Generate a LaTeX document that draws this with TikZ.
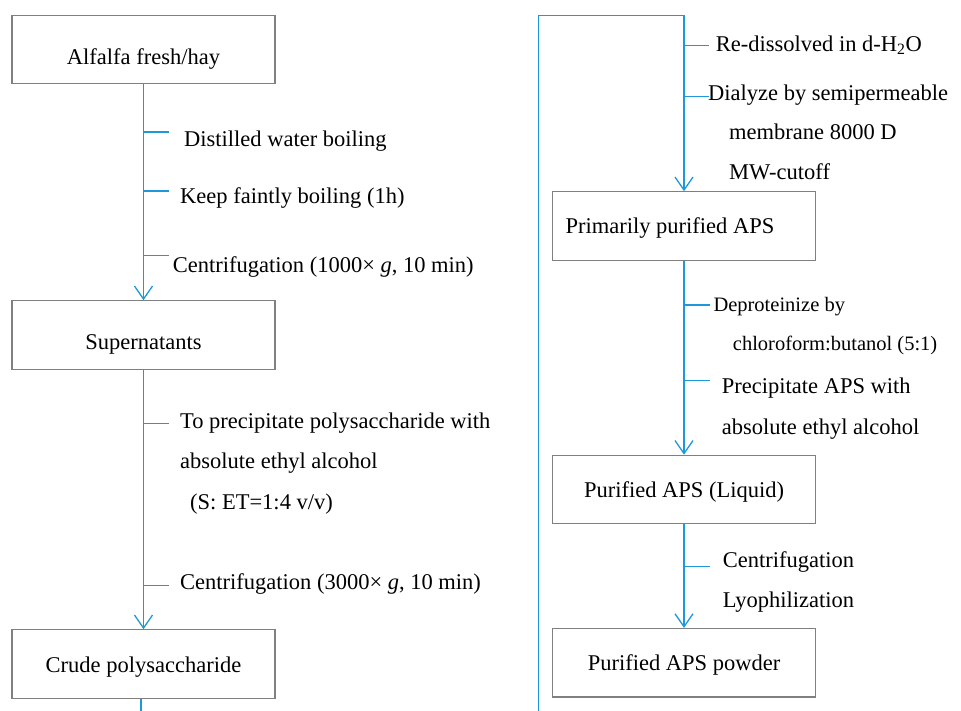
\documentclass[tikz,border=0pt]{standalone}
\usepackage{fontspec}
\setmainfont{Liberation Serif}
\usetikzlibrary{arrows.meta}
\definecolor{flowblue}{RGB}{30,152,218}
\definecolor{boxgray}{RGB}{128,128,128}

\begin{document}
\begin{tikzpicture}[x=1pt,y=-1pt,
    box/.style={draw=boxgray, line width=1.1pt, minimum width=263pt, minimum height=68.5pt,
        inner sep=0pt, font=\fontsize{22.5}{27}\selectfont, text height=16pt, text depth=0pt},
    flow/.style={draw=flowblue, line width=1.6pt, -{Straight Barb[length=13pt,width=18pt,line width=1.3pt]}},
    line/.style={draw=flowblue, line width=1.6pt},
    stub/.style={draw=flowblue, line width=1.6pt},
    stepnote/.style={anchor=base west, align=left, inner sep=0pt, font=\fontsize{22.5}{40.5}\selectfont},
    smallnote/.style={anchor=base west, align=left, inner sep=0pt, font=\fontsize{20.5}{38.3}\selectfont}]
    \useasboundingbox (0,0) rectangle (961,711);

    % Define the positions of the boxes
    \coordinate (alfalfaPos) at (143.5,49.5);
    \coordinate (superPos) at (143.5,335);
    \coordinate (crudePos) at (143.5,664);
    \coordinate (primPos) at (684,226);
    \coordinate (liquidPos) at (684,489.5);
    \coordinate (powderPos) at (684,662.7);

    % Draw the boxes
    \node[box, text height=29.6pt] (alfalfa) at (alfalfaPos) {Alfalfa fresh/hay};
    \node[box, text height=28pt] (super) at (superPos) {Supernatants};
    \node[box] (crude) at (crudePos) {Crude polysaccharide};
    \node[box] (prim) at (primPos) {\hspace*{-28pt}Primarily purified APS};
    \node[box] (liquid) at (liquidPos) {Purified APS (Liquid)};
    \node[box] (powder) at (powderPos) {Purified APS powder};

    % Draw the steps (base = baseline of the last line)
    \node[stepnote] (distil) at (184,146.7) {Distilled water boiling};
    \node[stepnote] (keep) at (180,204) {Keep faintly boiling (1h)};
    \node[stepnote] (centA) at (172.7,272.7) {Centrifugation (1000× \textit{g}, 10 min)};
    \node[stepnote] (precipA) at (180,509.3) {To precipitate polysaccharide with\\absolute ethyl alcohol\\\hspace*{10pt}(S: ET=1:4 v/v)};
    \node[stepnote] (centB) at (180,589.3) {Centrifugation (3000× \textit{g}, 10 min)};
    \node[stepnote] (redis) at (715.7,51.7) {Re-dissolved in d-H\textsubscript{2}O};
    \node[stepnote, font=\fontsize{22.5}{39.6}\selectfont] (dialyze) at (708,179.3) {Dialyze by semipermeable\\\hspace*{21pt}membrane 8000 D\\\hspace*{21pt}MW-cutoff};
    \node[smallnote] (deprot) at (713.3,350) {Deproteinize by\\\hspace*{19.4pt}chloroform:butanol (5:1)};
    \node[stepnote] (precipB) at (721.7,434) {Precipitate APS with\\absolute ethyl alcohol};
    \node[stepnote, font=\fontsize{22.5}{40}\selectfont] (lyo) at (722.7,607.3) {Centrifugation\\Lyophilization};

    % Draw the left column
    \draw[flow] (alfalfa) -- (super);
    \draw[flow] (super) -- (crude);
    \coordinate (leftEnd) at (141,711);
    \draw[line] (crude.south -| leftEnd) -- (leftEnd);
    \draw[stub] (alfalfa.south) ++(0,48) -- ++(25,0);
    \draw[stub] (alfalfa.south) ++(0,107) -- ++(25,0);
    \draw[stub] (alfalfa.south) ++(0,171.3) -- ++(25,0);
    \draw[stub] (super.south) ++(0,53.5) -- ++(25,0);
    \draw[stub] (super.south) ++(0,215.7) -- ++(25,0);

    % Draw the right column
    \coordinate (rightEnd) at (538.3,711);
    \coordinate (topLeft) at (538.3,15.7);
    \coordinate (topRight) at (684,15.7);
    \draw[flow] (rightEnd) -- (topLeft) -- (topRight) -- (prim.north);
    \draw[flow] (prim) -- (liquid);
    \draw[flow] (liquid) -- (powder);
    \draw[stub] (topRight) ++(0,30) -- ++(25,0);
    \draw[stub] (topRight) ++(0,81) -- ++(25,0);
    \draw[stub] (prim.south) ++(0,44.5) -- ++(26,0);
    \draw[stub] (prim.south) ++(0,119.7) -- ++(26,0);
    \draw[stub] (liquid.south) ++(0,42) -- ++(26,0);
\end{tikzpicture}
\end{document}
